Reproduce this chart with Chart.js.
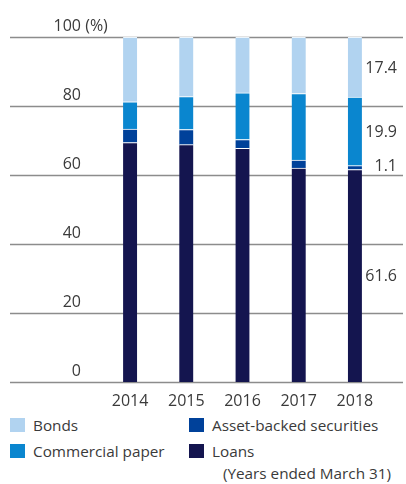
<!DOCTYPE html>
<html lang="en">
<head>
    <meta charset="UTF-8">
    <title>Funding composition</title>
    <script src="https://cdn.jsdelivr.net/npm/chart.js"></script>
    <style>
        html, body {
            margin: 0;
            padding: 0;
            background: #ffffff;
        }
        body {
            font-family: 'Open Sans', sans-serif;
            color: #3a3a3a;
            width: 406px;
            height: 484px;
            position: relative;
            overflow: hidden;
        }
        .chart-box {
            position: absolute;
            left: 0;
            top: 0;
            width: 406px;
            height: 412px;
        }
        .legend-item {
            position: absolute;
            display: flex;
            align-items: center;
            font-size: 15.3px;
            height: 16px;
            white-space: nowrap;
        }
        .legend-item span.swatch {
            display: inline-block;
            width: 15px;
            height: 14px;
            margin-right: 8px;
        }
        .note {
            position: absolute;
            right: 15px;
            top: 463px;
            font-size: 15.3px;
            white-space: nowrap;
        }
    </style>
</head>
<body>
    <div class="chart-box">
        <canvas id="mixChart"></canvas>
    </div>

    <div class="legend-item" style="left:10px; top:417px;"><span class="swatch" style="background:#b1d3f0;"></span>Bonds</div>
    <div class="legend-item" style="left:189px; top:417px;"><span class="swatch" style="background:#00419a;"></span>Asset-backed securities</div>
    <div class="legend-item" style="left:10px; top:443px;"><span class="swatch" style="background:#0a86cf;"></span>Commercial paper</div>
    <div class="legend-item" style="left:189px; top:443px;"><span class="swatch" style="background:#14154f;"></span>Loans</div>
    <div class="note">(Years ended March 31)</div>

    <script>
        const years = ['2014', '2015', '2016', '2017', '2018'];
        const loans = [69.4, 68.8, 67.7, 62.0, 61.6];
        const assetBacked = [3.9, 4.4, 2.6, 2.3, 1.1];
        const commercialPaper = [7.9, 9.5, 13.5, 19.3, 19.9];
        const bonds = [18.8, 17.3, 16.2, 16.4, 17.4];
        const yTicks = [0, 20, 40, 60, 80, 100];

        const textColor = '#3a3a3a';
        const gridColor = '#8c8c8c';

        // horizontal rules across the full width, with labels sitting above them
        const gridPlugin = {
            id: 'gridPlugin',
            beforeDatasetsDraw(chart) {
                const ctx = chart.ctx;
                const y = chart.scales.y;
                ctx.save();
                ctx.strokeStyle = gridColor;
                ctx.lineWidth = 1.3;
                ctx.font = "16px 'Open Sans', sans-serif";
                ctx.fillStyle = textColor;
                ctx.textBaseline = 'alphabetic';
                yTicks.forEach(v => {
                    const py = Math.round(y.getPixelForValue(v)) + 0.5;
                    ctx.beginPath();
                    ctx.moveTo(10, py);
                    ctx.lineTo(403, py);
                    ctx.stroke();
                    ctx.textAlign = 'right';
                    ctx.fillText(String(v), 81, py - 7);
                    if (v === 100) {
                        ctx.textAlign = 'left';
                        ctx.fillText(' (%)', 81, py - 7);
                    }
                });
                ctx.restore();
            }
        };

        // values for the last year, next to its bar
        const lastValuePlugin = {
            id: 'lastValuePlugin',
            afterDatasetsDraw(chart) {
                const ctx = chart.ctx;
                const last = years.length - 1;
                ctx.save();
                ctx.font = "16px 'Open Sans', sans-serif";
                ctx.fillStyle = textColor;
                ctx.textAlign = 'right';
                ctx.textBaseline = 'middle';
                chart.data.datasets.forEach((ds, i) => {
                    const bar = chart.getDatasetMeta(i).data[last];
                    let cy = (bar.y + bar.base) / 2;
                    if (ds.label === 'Asset-backed securities') cy -= 2;
                    ctx.fillText(ds.data[last].toFixed(1), 397, cy + 1);
                });
                ctx.restore();
            }
        };

        function makeSet(label, data, color) {
            return {
                label: label,
                data: data,
                backgroundColor: color,
                borderColor: '#ffffff',
                borderWidth: { top: 1, right: 0, bottom: 0, left: 0 },
                borderSkipped: false,
                barThickness: 14
            };
        }

        new Chart(document.getElementById('mixChart'), {
            type: 'bar',
            data: {
                labels: years,
                datasets: [
                    makeSet('Loans', loans, '#14154f'),
                    makeSet('Asset-backed securities', assetBacked, '#00419a'),
                    makeSet('Commercial paper', commercialPaper, '#0a86cf'),
                    makeSet('Bonds', bonds, '#b1d3f0')
                ]
            },
            options: {
                responsive: true,
                maintainAspectRatio: false,
                animation: false,
                layout: {
                    padding: { left: 102, right: 23, top: 37, bottom: 0 }
                },
                scales: {
                    x: {
                        stacked: true,
                        border: { display: false },
                        grid: { display: false, drawTicks: false },
                        ticks: {
                            color: textColor,
                            padding: 10,
                            font: { size: 16, family: "'Open Sans', sans-serif" }
                        },
                        afterFit(scale) {
                            scale.height = 30;
                        }
                    },
                    y: {
                        stacked: true,
                        display: false,
                        min: 0,
                        max: 100
                    }
                },
                plugins: {
                    legend: { display: false },
                    tooltip: { enabled: false }
                }
            },
            plugins: [gridPlugin, lastValuePlugin]
        });
    </script>
</body>
</html>
